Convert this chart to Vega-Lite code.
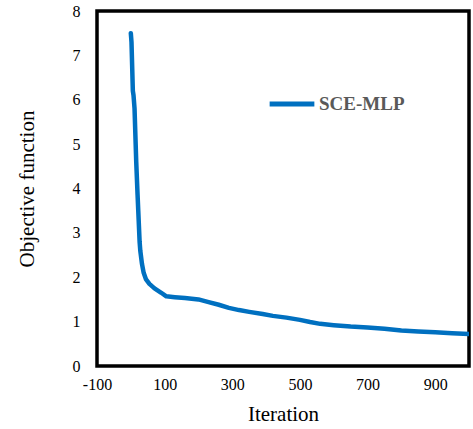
{
  "$schema": "https://vega.github.io/schema/vega-lite/v6.json",
  "width": 372,
  "height": 355,
  "autosize": {"type": "none"},
  "padding": {"left": 97, "top": 11, "right": 4, "bottom": 63},
  "background": "white",
  "config": {
    "view": {"stroke": "black", "strokeWidth": 3.5},
    "font": "Liberation Serif"
  },
  "data": {
    "values": [
      {"iter": 0, "obj": 7.5, "series": "SCE-MLP"},
      {"iter": 2, "obj": 7.3, "series": "SCE-MLP"},
      {"iter": 6, "obj": 6.2, "series": "SCE-MLP"},
      {"iter": 8, "obj": 6.1, "series": "SCE-MLP"},
      {"iter": 11, "obj": 5.8, "series": "SCE-MLP"},
      {"iter": 16, "obj": 4.6, "series": "SCE-MLP"},
      {"iter": 20, "obj": 3.85, "series": "SCE-MLP"},
      {"iter": 22, "obj": 3.5, "series": "SCE-MLP"},
      {"iter": 26, "obj": 2.8, "series": "SCE-MLP"},
      {"iter": 28, "obj": 2.6, "series": "SCE-MLP"},
      {"iter": 33, "obj": 2.3, "series": "SCE-MLP"},
      {"iter": 38, "obj": 2.1, "series": "SCE-MLP"},
      {"iter": 45, "obj": 1.95, "series": "SCE-MLP"},
      {"iter": 55, "obj": 1.85, "series": "SCE-MLP"},
      {"iter": 70, "obj": 1.75, "series": "SCE-MLP"},
      {"iter": 90, "obj": 1.65, "series": "SCE-MLP"},
      {"iter": 105, "obj": 1.57, "series": "SCE-MLP"},
      {"iter": 130, "obj": 1.55, "series": "SCE-MLP"},
      {"iter": 160, "obj": 1.53, "series": "SCE-MLP"},
      {"iter": 200, "obj": 1.5, "series": "SCE-MLP"},
      {"iter": 230, "obj": 1.44, "series": "SCE-MLP"},
      {"iter": 260, "obj": 1.38, "series": "SCE-MLP"},
      {"iter": 290, "obj": 1.31, "series": "SCE-MLP"},
      {"iter": 320, "obj": 1.26, "series": "SCE-MLP"},
      {"iter": 350, "obj": 1.22, "series": "SCE-MLP"},
      {"iter": 390, "obj": 1.17, "series": "SCE-MLP"},
      {"iter": 420, "obj": 1.13, "series": "SCE-MLP"},
      {"iter": 460, "obj": 1.09, "series": "SCE-MLP"},
      {"iter": 500, "obj": 1.04, "series": "SCE-MLP"},
      {"iter": 530, "obj": 0.99, "series": "SCE-MLP"},
      {"iter": 560, "obj": 0.95, "series": "SCE-MLP"},
      {"iter": 600, "obj": 0.92, "series": "SCE-MLP"},
      {"iter": 650, "obj": 0.89, "series": "SCE-MLP"},
      {"iter": 700, "obj": 0.87, "series": "SCE-MLP"},
      {"iter": 750, "obj": 0.84, "series": "SCE-MLP"},
      {"iter": 800, "obj": 0.8, "series": "SCE-MLP"},
      {"iter": 850, "obj": 0.78, "series": "SCE-MLP"},
      {"iter": 900, "obj": 0.76, "series": "SCE-MLP"},
      {"iter": 950, "obj": 0.74, "series": "SCE-MLP"},
      {"iter": 1000, "obj": 0.72, "series": "SCE-MLP"}
    ]
  },
  "mark": {"type": "line", "strokeWidth": 4.5, "strokeCap": "round", "strokeJoin": "round", "clip": true},
  "encoding": {
    "x": {
      "field": "iter",
      "type": "quantitative",
      "scale": {"domain": [-100, 1000], "nice": false, "zero": false},
      "axis": {
        "title": "Iteration",
        "values": [-100, 100, 300, 500, 700, 900],
        "labelExpr": "'' + datum.value",
        "grid": false,
        "domain": false,
        "ticks": false,
        "labelPadding": 10,
        "labelFont": "Liberation Serif",
        "labelFontSize": 16,
        "labelColor": "black",
        "titleFont": "Liberation Serif",
        "titleFontSize": 21,
        "titleFontWeight": "normal",
        "titleColor": "black",
        "titlePadding": 11,
        "labelFlush": false
      }
    },
    "y": {
      "field": "obj",
      "type": "quantitative",
      "scale": {"domain": [0, 8], "nice": false},
      "axis": {
        "title": "Objective function",
        "values": [0, 1, 2, 3, 4, 5, 6, 7, 8],
        "grid": false,
        "domain": false,
        "ticks": false,
        "labelPadding": 17,
        "labelFont": "Liberation Serif",
        "labelFontSize": 16,
        "labelColor": "black",
        "titleFont": "Liberation Serif",
        "titleFontSize": 21,
        "titleFontWeight": "normal",
        "titleColor": "black",
        "titlePadding": 35,
        "labelFlush": false
      }
    },
    "color": {
      "field": "series",
      "type": "nominal",
      "scale": {"range": ["#0070C0"]},
      "legend": {
        "title": null,
        "orient": "none",
        "legendX": 170,
        "legendY": 68,
        "symbolType": "stroke",
        "symbolStrokeWidth": 5,
        "symbolSize": 2000,
        "labelFont": "Liberation Serif",
        "labelFontSize": 19,
        "labelFontWeight": "bold",
        "labelColor": "#595959",
        "labelOffset": 2
      }
    }
  }
}
